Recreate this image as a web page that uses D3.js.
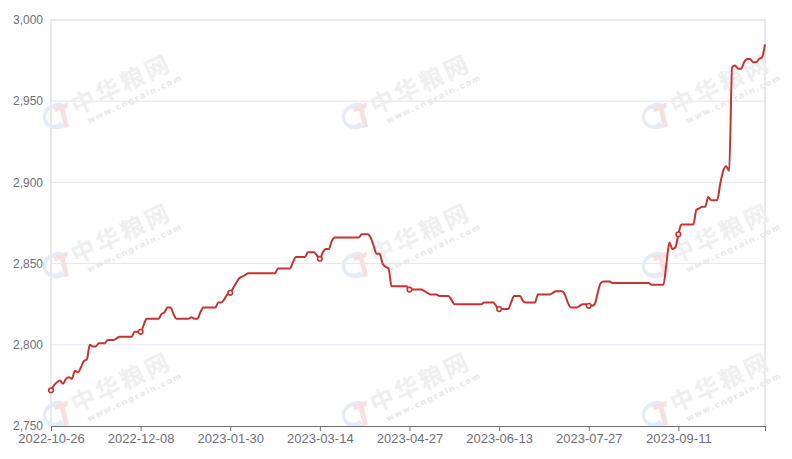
<!DOCTYPE html>
<html><head><meta charset="utf-8">
<script src="https://cdn.jsdelivr.net/npm/d3@7/dist/d3.min.js"></script>
<style>html,body{margin:0;padding:0;background:#fff;}svg{display:block;}</style>
</head><body>
<svg id="chart" width="792" height="459"></svg>
<script>
// ---- data ----
const xTickLabels = ["2022-10-26","2022-12-08","2023-01-30","2023-03-14","2023-04-27","2023-06-13","2023-07-27","2023-09-11"];
const labelEvery = 30;
const yTicks = [2750, 2800, 2850, 2900, 2950, 3000];
const prices = [
2772,2775,2777,2778,2776,2779,2780,2779,2784,2783,
2786,2790,2791,2800,2799,2799,2801,2801,2801,2803,
2803,2803,2804,2805,2805,2805,2805,2805,2808,2808,
2808,2812,2816,2816,2816,2816,2816,2819,2820,2823,
2823,2819,2816,2816,2816,2816,2816,2817,2816,2816,
2820,2823,2823,2823,2823,2823,2826,2826,2828,2831,
2832,2835,2838,2841,2842,2843,2844,2844,2844,2844,
2844,2844,2844,2844,2844,2844,2847,2847,2847,2847,
2847,2851,2854,2854,2854,2854,2857,2857,2857,2855,
2853,2857,2859,2859,2864,2866,2866,2866,2866,2866,
2866,2866,2866,2866,2868,2868,2868,2866,2861,2856,
2856,2850,2848,2847,2836,2836,2836,2836,2836,2836,
2834,2834,2834,2834,2834,2833,2832,2831,2831,2831,
2830,2830,2830,2830,2828,2825,2825,2825,2825,2825,
2825,2825,2825,2825,2825,2826,2826,2826,2826,2824,
2822,2822,2822,2822,2826,2830,2830,2830,2827,2826,
2826,2826,2826,2831,2831,2831,2831,2831,2832,2833,
2833,2833,2831,2826,2823,2823,2823,2824,2825,2825,
2824,2824,2825,2832,2838,2839,2839,2839,2838,2838,
2838,2838,2838,2838,2838,2838,2838,2838,2838,2838,
2838,2837,2837,2837,2837,2837,2850,2863,2859,2860,
2868,2874,2874,2874,2874,2874,2883,2884,2885,2885,
2891,2889,2889,2889,2899,2907,2910,2907,2971,2972,
2970,2970,2974,2976,2976,2974,2974,2976,2977,2985
];
const wmCols = [57, 356, 656];
const wmRows = [117, 266, 415];

// ---- layout ----
const svg = d3.select("#chart");
const L = 51, R = 765, T = 20, B = 426;
const idx = d3.range(prices.length);
const x = d3.scalePoint().domain(idx).range([L, R]);
const y = d3.scaleLinear().domain([2750, 3000]).range([B, T]);
const fmt = d3.format(",");
const lineColor = "#c23531";

// grid lines
svg.append("g").selectAll("line").data(yTicks.filter(v => v > 2750 && v < 3000)).join("line")
  .attr("x1", L).attr("x2", R).attr("y1", d => y(d)).attr("y2", d => y(d))
  .attr("stroke", "#E0E6F1").attr("stroke-width", 1);
// border (top, left, right)
svg.append("path")
  .attr("d", `M${L},${B}V${T}H${R}V${B}`)
  .attr("fill", "none").attr("stroke", "#e2e2e2").attr("stroke-width", 1.5);

// watermarks
const wm = svg.append("g").attr("class", "watermark");
wmCols.forEach(cx => wmRows.forEach(cy => {
  const g = wm.append("g").attr("transform", `translate(${cx},${cy}) rotate(-20)`);
  // logo: blue crescent + red bar
  g.append("path")
    .attr("d", "M10,-11 A15,13 0 1,0 4,12 L2,6 A9,8 0 1,1 6,-5 Z")
    .attr("fill", "#e3ecf7");
  g.append("path")
    .attr("d", "M0,-10 L15,-10 L13,-5 L10,-5 L8,13 L3,13 L5,-5 L0,-5 Z")
    .attr("fill", "#f9e0e0");
  const t = wm.append("g").attr("transform", `translate(${cx + 19},${cy - 2}) rotate(-25)`);
  t.append("text").text("中华粮网")
    .attr("x", 0).attr("y", 0)
    .attr("font-family", "'Noto Sans CJK SC', sans-serif").attr("font-weight", "bold")
    .attr("font-size", 24).attr("letter-spacing", 3).attr("fill", "#efefef");
  t.append("text").text("www.cngrain.com")
    .attr("x", 8).attr("y", 13)
    .attr("font-family", "'DejaVu Sans', sans-serif").attr("font-weight", "bold")
    .attr("font-size", 8).attr("letter-spacing", 1.6).attr("fill", "#e8e8e8");
}));

// y axis labels
svg.append("g").selectAll("text").data(yTicks).join("text")
  .attr("x", L - 8).attr("y", d => y(d)).attr("dy", "0.35em")
  .attr("text-anchor", "end")
  .attr("font-family", "'Liberation Sans', Arial, sans-serif").attr("font-size", 12)
  .attr("fill", "#6E7079").text(d => fmt(d));

// x axis
const tickIdx = idx.filter(i => i % labelEvery === 0);
const xAxis = d3.axisBottom(x)
  .tickValues(tickIdx.concat([prices.length - 1]))
  .tickSize(5).tickSizeOuter(0)
  .tickFormat(i => (i % labelEvery === 0 ? xTickLabels[i / labelEvery] || "" : ""));
const gx = svg.append("g").attr("transform", `translate(0,${B})`).call(xAxis);
gx.select(".domain").attr("stroke", "#6E7079");
gx.selectAll(".tick line").attr("stroke", "#6E7079");
gx.selectAll(".tick text").attr("fill", "#6E7079").attr("font-size", 13).attr("dy", "0.7em")
  .attr("font-family", "'Liberation Sans', Arial, sans-serif");

// line
const line = d3.line().x((d, i) => x(i)).y(d => y(d)).curve(d3.curveMonotoneX);
svg.append("path").datum(prices).attr("d", line)
  .attr("fill", "none").attr("stroke", lineColor).attr("stroke-width", 2)
  .attr("stroke-linejoin", "round");

// symbols at labelled categories
svg.append("g").selectAll("circle").data(tickIdx).join("circle")
  .attr("cx", i => x(i)).attr("cy", i => y(prices[i])).attr("r", 2.3)
  .attr("fill", "#fff").attr("stroke", lineColor).attr("stroke-width", 1.6);
</script>
</body></html>
